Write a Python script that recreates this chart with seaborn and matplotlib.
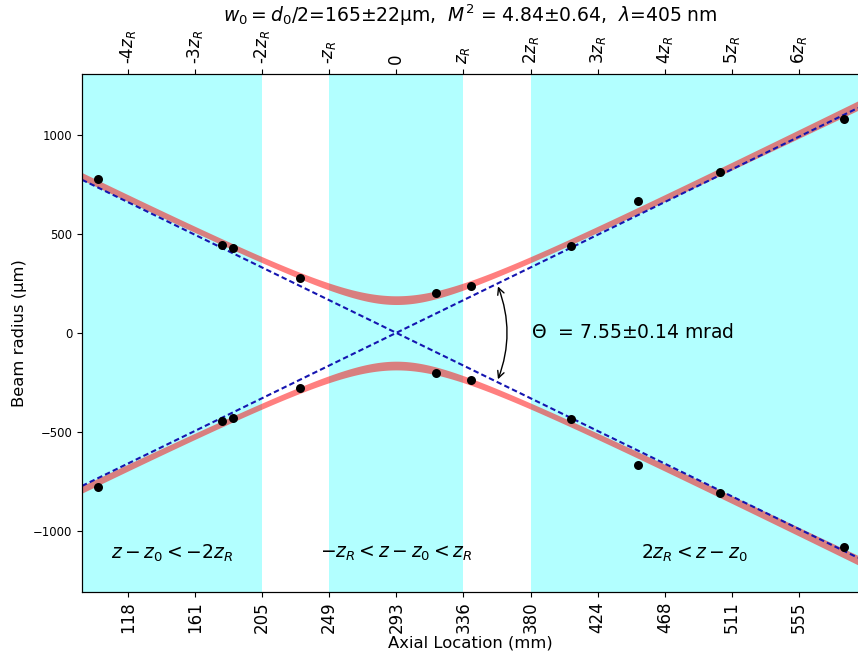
import numpy as np
import pandas as pd
import matplotlib.pyplot as plt
import seaborn as sns

# ==========================================
# RESULTADOS DO AJUSTE (M2)
# ==========================================
w0, w0_std = 165, 22            # µm
M2, M2_std = 4.84, 0.64
lambda_nm = 405
theta, theta_std = 7.55, 0.14   # mrad
z0 = 292.9                      # mm
zR = 43.7                       # mm
zmin, zmax = 88.3, 593.5        # faixa do eixo (mm)

# medidas (raio do feixe)
z_meas = [98.4, 179.2, 186.4, 230.2, 318.6, 341.6, 406.6, 450.4, 503.6, 584.2]
r_meas = [778, 444, 429, 276, 203, 238, 437, 666, 810, 1079]

tick_index = list(range(-4, 7))
bottom_labels = ['118', '161', '205', '249', '293', '336', '380', '424', '468', '511', '555']
top_labels = ['-4$z_R$', '-3$z_R$', '-2$z_R$', '-$z_R$', '0', '$z_R$',
              '2$z_R$', '3$z_R$', '4$z_R$', '5$z_R$', '6$z_R$']

# ==========================================
# ESTILO
# ==========================================
sns.set_theme(style='ticks', rc={
    'axes.edgecolor': 'black', 'xtick.color': 'black', 'ytick.color': 'black',
    'text.color': 'black', 'axes.labelcolor': 'black',
    'xtick.major.size': 3.5, 'ytick.major.size': 3.5,
    'axes.linewidth': 0.8, 'xtick.major.width': 0.8, 'ytick.major.width': 0.8,
})
plt.rcParams['font.family'] = ['DejaVu Sans']

fig = plt.figure(figsize=(8.58, 6.58), dpi=100)
ax = fig.add_axes([82 / 858, 66.3 / 658, 1 - 82 / 858, (591.7 - 74) / 658])

# regiões sombreadas
ax.axvspan(zmin, z0 - 2 * zR, color='cyan', alpha=0.3, lw=0, zorder=0)
ax.axvspan(z0 - zR, z0 + zR, color='cyan', alpha=0.3, lw=0, zorder=0)
ax.axvspan(z0 + 2 * zR, zmax, color='cyan', alpha=0.3, lw=0, zorder=0)

# faixa de incerteza do ajuste
d0, d0_std = 2 * w0, 2 * w0_std
z_fit = np.linspace(zmin, zmax, 400)
r_lo = np.sqrt((d0 - d0_std) ** 2 + ((theta - theta_std) * (z_fit - z0)) ** 2) / 2
r_hi = np.sqrt((d0 + d0_std) ** 2 + ((theta + theta_std) * (z_fit - z0)) ** 2) / 2
ax.fill_between(z_fit, r_lo, r_hi, color='red', alpha=0.5, lw=0, zorder=2)
ax.fill_between(z_fit, -r_lo, -r_hi, color='red', alpha=0.5, lw=0, zorder=2)

# assíntotas
r_left = (zmin - z0) * theta / 2
r_right = (zmax - z0) * theta / 2
ax.plot([zmin, zmax], [r_left, r_right], color='#1515b0', lw=1.5, ls=(0, (2.6, 1.5)), zorder=3)
ax.plot([zmin, zmax], [-r_left, -r_right], color='#1515b0', lw=1.5, ls=(0, (2.6, 1.5)), zorder=3)

# pontos medidos
df = pd.DataFrame({'z': z_meas + z_meas, 'r': r_meas + [-v for v in r_meas]})
sns.scatterplot(data=df, x='z', y='r', color='black', s=42, edgecolor='black',
                linewidth=0, ax=ax, zorder=5)

ax.set_xlim(zmin, zmax)
ax.set_ylim(-1306, 1306)

ticks = [z0 + i * zR for i in tick_index]
ax.set_xticks(ticks, bottom_labels, rotation=90, fontsize=12)
ax.tick_params(axis='y', labelsize=8.4)
ax.set_xlabel('Axial Location (mm)', fontsize=11.8, labelpad=2)
ax.set_ylabel('Beam radius (µm)', fontsize=11.8)
ax.spines['right'].set_visible(False)

ax2 = ax.twiny()
ax2.set_xlim(ax.get_xlim())
ax2.set_xticks(ticks, top_labels, rotation=90, fontsize=12)
ax2.spines['right'].set_visible(False)

# ângulo de divergência
za = z0 + 1.5 * zR
ra = 1.5 * zR * theta / 2
ax.annotate('', xy=(za, ra), xytext=(za, -ra),
            arrowprops=dict(arrowstyle='<->', connectionstyle='arc3, rad=0.2', color='black', lw=1))
ax.text(z0 + 2 * zR, 0, r'$\Theta$  = %.2f±%.2f mrad' % (theta, theta_std),
        va='center', fontsize=13.5)

# rótulos das regiões
y_txt = -1110
ax.text((zmin + z0 - 2 * zR) / 2, y_txt, r'$z-z_0<-2z_R$', ha='center', va='center', fontsize=13.5)
ax.text(z0, y_txt, r'$-z_R<z-z_0<z_R$', ha='center', va='center', fontsize=13.5)
ax.text((zmax + z0 + 2 * zR) / 2, y_txt, r'$2z_R<z-z_0$', ha='center', va='center', fontsize=13.5)

title = r'$w_0=d_0/2$=%.0f±%.0fµm,  ' % (w0, w0_std)
title += r'$M^2$ = %.2f±%.2f,  ' % (M2, M2_std)
title += r'$\lambda$=%.0f nm' % lambda_nm
ax2.set_title(title, fontsize=13.5)

plt.savefig('out.png', dpi=100)
